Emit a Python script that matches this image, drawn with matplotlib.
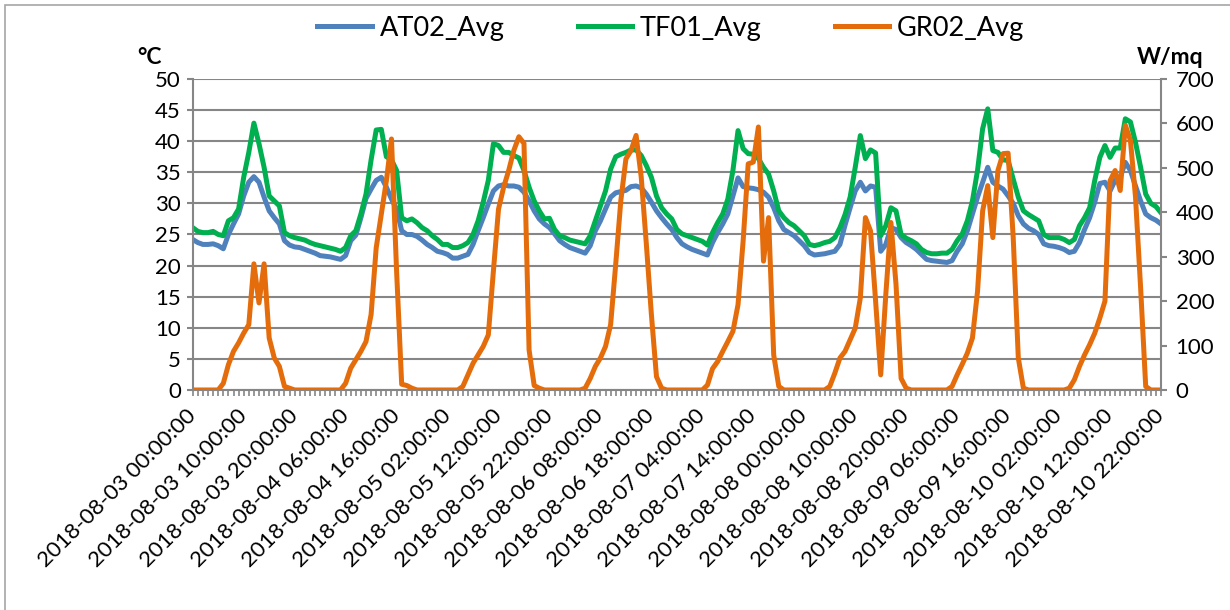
import numpy as np
import pandas as pd
import matplotlib
matplotlib.use("Agg")
import matplotlib.pyplot as plt
from matplotlib.patches import Rectangle

plt.rcParams['font.family'] = ['Lato', 'DejaVu Sans']

# hourly series, 2018-08-03 00:00 -> 2018-08-10 22:00
start_time = "2018-08-03 00:00:00"

at02 = [24.2, 23.7, 23.4, 23.4, 23.5, 23.2, 22.7, 25.0, 26.7, 28.3,
        31.2, 33.4, 34.3, 33.4, 31.0, 28.8, 27.7, 26.7, 24.0, 23.3,
        23.0, 22.9, 22.6, 22.3, 22.0, 21.6, 21.5, 21.4, 21.2, 21.0,
        21.6, 24.0, 24.9, 27.7, 30.8, 32.3, 33.7, 34.2, 32.6, 30.7,
        29.1, 25.6, 25.0, 25.0, 24.7, 24.1, 23.4, 22.9, 22.3, 22.1,
        21.8, 21.2, 21.2, 21.5, 21.8, 23.4, 25.6, 27.7, 29.9, 32.0,
        32.8, 33.0, 32.8, 32.8, 32.6, 31.8, 30.4, 28.8, 27.5, 26.7,
        26.1, 25.1, 24.0, 23.4, 22.9, 22.6, 22.3, 22.0, 23.2, 25.6,
        27.2, 29.1, 31.0, 31.7, 31.9, 32.1, 32.7, 32.8, 32.5, 31.5,
        30.2, 28.8, 27.7, 26.7, 25.8, 24.5, 23.5, 23.0, 22.6, 22.3,
        22.0, 21.7, 23.7, 25.3, 26.7, 28.3, 31.2, 34.1, 32.7, 32.5,
        32.4, 32.2, 31.8, 31.0, 29.3, 27.2, 25.8, 25.3, 24.8, 24.0,
        23.2, 22.1, 21.7, 21.8, 21.9, 22.1, 22.3, 23.4, 26.5, 29.3,
        32.0, 33.4, 32.0, 32.8, 32.6, 22.3, 23.4, 26.1, 25.8, 24.5,
        23.7, 23.2, 22.6, 21.8, 21.0, 20.8, 20.7, 20.6, 20.5, 20.8,
        22.3, 23.5, 25.6, 28.3, 31.0, 33.4, 35.8, 33.4, 32.8, 32.3,
        31.2, 30.0, 28.0, 26.7, 26.0, 25.6, 25.0, 23.5, 23.2, 23.1,
        22.9, 22.6, 22.1, 22.3, 23.7, 25.8, 27.7, 30.2, 33.2, 33.4,
        32.0, 33.7, 34.2, 36.6, 35.3, 32.8, 30.4, 28.3, 27.7, 27.3,
        26.7]

tf01 = [26.1, 25.5, 25.3, 25.3, 25.5, 25.0, 24.8, 27.2, 27.7, 29.1,
        34.2, 38.2, 42.9, 39.6, 35.8, 31.2, 30.4, 29.6, 25.3, 24.8,
        24.5, 24.3, 24.1, 23.7, 23.4, 23.2, 23.0, 22.8, 22.6, 22.3,
        22.9, 24.8, 25.6, 28.3, 31.5, 37.0, 41.8, 41.9, 37.5, 37.0,
        35.3, 27.7, 27.2, 27.5, 26.9, 26.1, 25.6, 24.8, 24.2, 23.4,
        23.4, 22.9, 22.9, 23.2, 23.7, 25.0, 27.2, 30.2, 33.7, 39.6,
        39.3, 38.2, 38.2, 37.7, 37.3, 35.3, 32.6, 30.4, 28.8, 27.5,
        27.6, 25.8, 24.8, 24.5, 24.1, 23.9, 23.7, 23.5, 24.8, 27.2,
        29.6, 32.0, 35.5, 37.5, 37.9, 38.2, 38.6, 38.6, 37.7, 36.1,
        34.2, 31.2, 29.3, 28.3, 27.5, 25.8, 25.1, 24.8, 24.5, 24.2,
        23.9, 23.3, 25.3, 26.9, 28.3, 30.7, 35.3, 41.7, 38.8, 38.0,
        37.9, 37.2, 35.8, 34.7, 32.0, 28.8, 27.7, 26.9, 26.4, 25.6,
        24.8, 23.4, 23.2, 23.4, 23.7, 23.9, 24.5, 26.1, 28.2, 31.0,
        35.8, 40.9, 37.2, 38.6, 38.1, 24.8, 26.4, 29.3, 28.8, 25.0,
        24.4, 24.0, 23.5, 22.6, 22.1, 21.9, 21.9, 22.0, 22.0, 22.6,
        24.0, 25.1, 27.2, 30.4, 35.3, 42.0, 45.2, 38.5, 38.2, 37.0,
        36.9, 33.9, 31.0, 28.8, 28.2, 27.7, 27.2, 25.0, 24.5, 24.5,
        24.5, 24.2, 23.7, 24.2, 26.4, 27.7, 29.3, 33.7, 37.4, 39.3,
        37.4, 38.9, 38.9, 43.6, 43.1, 39.8, 35.8, 31.5, 30.0, 29.5,
        28.5]

gr02 = [0, 0, 0, 0, 0, 0, 15, 57, 87, 106,
        128, 147, 284, 196, 284, 117, 72, 53, 8, 4,
        0, 0, 0, 0, 0, 0, 0, 0, 0, 0,
        15, 49, 68, 87, 109, 170, 320, 396, 471, 565,
        268, 13, 10, 4, 0, 0, 0, 0, 0, 0,
        0, 0, 0, 8, 34, 60, 79, 98, 124, 268,
        407, 456, 494, 539, 570, 555, 90, 10, 4, 0,
        0, 0, 0, 0, 0, 0, 0, 4, 26, 53,
        72, 98, 147, 283, 426, 520, 539, 573, 480, 330,
        170, 30, 4, 0, 0, 0, 0, 0, 0, 0,
        0, 11, 48, 64, 87, 109, 132, 192, 335, 509,
        513, 592, 290, 388, 79, 8, 0, 0, 0, 0,
        0, 0, 0, 0, 0, 8, 38, 72, 87, 113,
        139, 207, 388, 358, 200, 34, 215, 377, 238, 26,
        4, 0, 0, 0, 0, 0, 0, 0, 0, 8,
        34, 58, 83, 117, 222, 403, 460, 343, 494, 532,
        533, 343, 72, 4, 0, 0, 0, 0, 0, 0,
        0, 0, 4, 23, 53, 79, 102, 128, 162, 200,
        471, 494, 449, 596, 562, 434, 230, 8, 0, 0,
        0]

times = pd.date_range(start_time, periods=len(at02), freq="h")
labels = [t.strftime("%Y-%m-%d %H:%M:%S") for t in times]
x = np.arange(len(at02))

grey = '#868686'

fig = plt.figure(figsize=(12.3, 6.1), dpi=100)
ax = fig.add_axes([0.1567, 0.3607, 0.7872, 0.5098])
ax2 = ax.twinx()

l1, = ax.plot(x, at02, color='#4F81BD', lw=3.6, solid_joinstyle='round', label='AT02_Avg')
l2, = ax.plot(x, tf01, color='#00B050', lw=3.6, solid_joinstyle='round', label='TF01_Avg')
l3, = ax2.plot(x, gr02, color='#E46C0A', lw=3.6, solid_joinstyle='round', label='GR02_Avg')

ax.set_xlim(0, len(x) - 1)
ax.set_ylim(0, 50)
ax.set_yticks(range(0, 51, 5))
ax2.set_ylim(0, 700)
ax2.set_yticks(range(0, 701, 100))

ax.yaxis.grid(True, color=grey, lw=1.5)
ax.set_axisbelow(True)

ax.set_xticks(x[::10])
ax.set_xticks(x, minor=True)
ax.set_xticklabels(labels[::10], rotation=45, ha='right', va='center',
                   rotation_mode='anchor')

for a in (ax, ax2):
    for s in a.spines.values():
        s.set_color(grey)
        s.set_linewidth(1.5)
ax.spines['top'].set_visible(False)
ax.spines['right'].set_visible(False)
ax2.spines['top'].set_visible(False)
ax2.spines['left'].set_visible(False)
ax2.spines['bottom'].set_visible(False)

ax.tick_params(axis='x', which='both', direction='out', length=4, width=1.2,
               color=grey, labelsize=16, pad=12)
ax.tick_params(axis='y', direction='out', length=4.5, width=1.5, color=grey,
               labelsize=16, pad=4)
ax2.tick_params(axis='y', direction='out', length=4.5, width=1.5, color=grey,
                labelsize=16, pad=6)

fig.text(149 / 1230, 1 - 57 / 610, '°C', fontsize=16.5, fontweight='bold',
         ha='center', va='center')
fig.text(1170 / 1230, 1 - 57 / 610, 'W/mq', fontsize=16.5, fontweight='bold',
         ha='center', va='center')

fig.legend(handles=[l1, l2, l3], loc='center', bbox_to_anchor=(0.5455, 0.954),
           ncol=3, frameon=False, fontsize=19.5, handlelength=2.0,
           handletextpad=0.3, columnspacing=2.7)

# outer chart frame
fig.add_artist(Rectangle((5 / 1230, -0.1), 1.2, 1.1 - 5 / 610, transform=fig.transFigure,
                         fill=False, edgecolor='#a6a6a6', lw=1.2, clip_on=False))

fig.savefig('out.png', dpi=100)
